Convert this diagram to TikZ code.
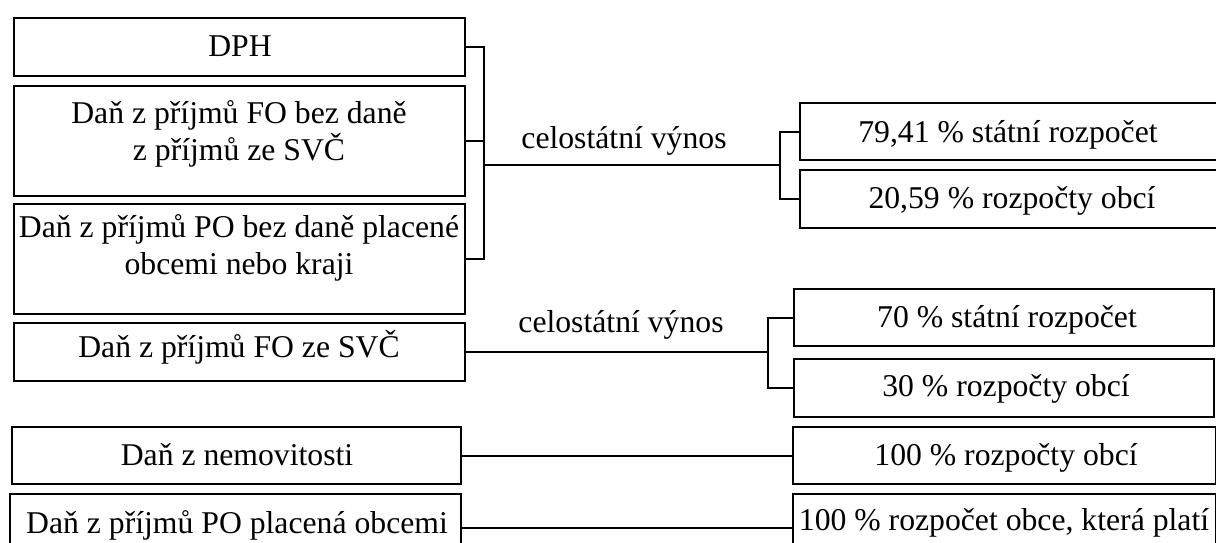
\documentclass[tikz,border=0pt]{standalone}
\usepackage{fontspec}
\setmainfont{Liberation Serif}
\begin{document}
\begin{tikzpicture}[x=1pt,y=-1pt,
  box/.style={draw, line width=2pt, rectangle, inner sep=0pt, anchor=north west},
  txt/.style={inner sep=0pt, font=\fontsize{31.7}{37}\selectfont},
  link/.style={line width=2pt}]
\useasboundingbox (0,0) rectangle (1216,543);
\clip (0,0) rectangle (1216,543);

% taxes (left column)
\node[box, minimum width=451pt, minimum height=58pt]  (dph) at (13,17)  {};
\node[box, minimum width=451pt, minimum height=110pt] (fob) at (13,85)  {};
\node[box, minimum width=451pt, minimum height=110pt] (pob) at (13,203) {};
\node[box, minimum width=451pt, minimum height=58pt]  (fos) at (13,322) {};
\node[box, minimum width=449pt, minimum height=57pt]  (nem) at (11,426) {};
\node[box, minimum width=451pt, minimum height=67pt]  (pop) at (9,493)  {};

\node[txt, anchor=base] (dph-t) at (240,57) {DPH};
\node[txt, align=center] (fob-t) at (239,133.5) {Daň z příjmů FO bez daně\\z příjmů ze SVČ};
\node[txt, align=center] (pob-t) at (239,247.5) {Daň z příjmů PO bez daně placené\\obcemi nebo kraji};
\node[txt, anchor=base] (fos-t) at (239,357) {Daň z příjmů FO ze SVČ};
\node[txt, anchor=base] (nem-t) at (237,465) {Daň z nemovitosti};
\node[txt, anchor=base] (pop-t) at (237,533) {Daň z příjmů PO placená obcemi};

% budgets (right column)
\node[box, minimum width=440pt, minimum height=57pt] (r1) at (799,102) {};
\node[box, minimum width=440pt, minimum height=58pt] (r2) at (799,169) {};
\node[box, minimum width=420pt, minimum height=57pt] (r3) at (793,288) {};
\node[box, minimum width=420pt, minimum height=58pt] (r4) at (793,358) {};
\node[box, minimum width=423pt, minimum height=57pt] (r5) at (792,426) {};
\node[box, minimum width=423pt, minimum height=67pt] (r6) at (792,493) {};

\node[txt, anchor=base] (r1-t) at (1008,142) {79,41 \% státní rozpočet};
\node[txt, anchor=base] (r2-t) at (1012,208) {20,59 \% rozpočty obcí};
\node[txt, anchor=base] (r3-t) at (1007,327) {70 \% státní rozpočet};
\node[txt, anchor=base] (r4-t) at (1006,396) {30 \% rozpočty obcí};
\node[txt, anchor=base] (r5-t) at (1006,465) {100 \% rozpočty obcí};
\node[txt, anchor=base] (r6-t) at (1004,530) {100 \% rozpočet obce, která platí};

% labels on the shared-revenue links
\node[txt, anchor=base] (lab1) at (624,148) {celostátní výnos};
\node[txt, anchor=base] (lab2) at (621,332) {celostátní výnos};

% junction points
\coordinate (ja) at (484,165);
\coordinate (jb) at (780,165);
\coordinate (jc) at (768,352);

% first group: three taxes merged, split into two budgets
\draw[link] (dph.east) -- (dph.east -| ja) |- (pob.east);
\draw[link] (fob.east) -- (fob.east -| ja);
\draw[link] (ja) -- (jb);
\draw[link] (r1.west) -- (r1.west -| jb) |- (r2.west);

% second group
\draw[link] (fos.east) -- (fos.east -| jc);
\draw[link] (r3.west) -- (r3.west -| jc) |- (r4.west);

% direct links
\draw[link] (nem.east) -- (r5.west);
\draw[link] (pop.east) -- (r6.west);
\end{tikzpicture}
\end{document}
